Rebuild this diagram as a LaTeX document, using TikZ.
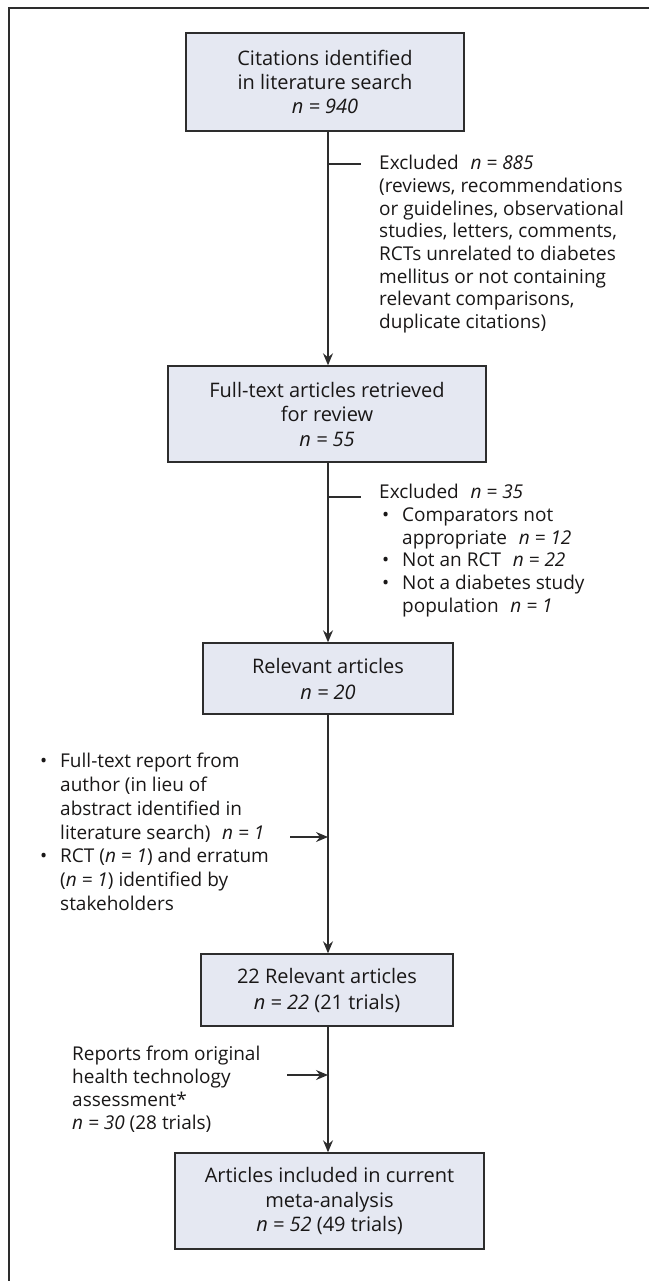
\documentclass[tikz,border=0pt]{standalone}
\usepackage{fontspec}
\setmainfont{Open Sans}
\usetikzlibrary{arrows.meta}
\definecolor{boxfill}{RGB}{229,232,242}
\definecolor{linegray}{RGB}{45,45,45}
\definecolor{inkc}{RGB}{25,23,23}
\newcommand{\bul}{\makebox[20pt][l]{\textbullet}}
\newcommand{\ind}{\hspace*{20pt}}
\newcommand{\gap}{\hspace{0.62em}}
\tikzset{
  flowbox/.style={draw=linegray, line width=1.4pt, fill=boxfill, inner sep=0pt, align=center, text=inkc},
  note/.style={inner sep=0pt, align=left, anchor=north west, text=inkc},
  conn/.style={draw=linegray, line width=1.2pt},
  arr/.style={conn, -{Stealth[length=12pt, width=10pt, inset=4pt]}},
  frame/.style={draw=linegray, line width=1.5pt}
}
\begin{document}
\begin{tikzpicture}[x=1pt,y=-1pt]
\useasboundingbox (0,0) rectangle (649,1281);
\draw[frame] (649,8) -- (9,8) -- (9,1281);
\coordinate (spine) at (328,0);
% boxes
\node[flowbox, minimum width=278pt, minimum height=98pt, font=\fontsize{20}{24.2}\selectfont] (b1) at (325,82)
  {Citations identified\\in literature search\\\textit{n = 940}};
\node[flowbox, minimum width=318pt, minimum height=96pt, font=\fontsize{20}{24.5}\selectfont] (b2) at (327,414)
  {Full-text articles retrieved\\for review\\\textit{n = 55}};
\node[flowbox, minimum width=250pt, minimum height=71pt, font=\fontsize{20}{26}\selectfont] (b3) at (328,678.5)
  {Relevant articles\\\textit{n = 20}};
\node[flowbox, minimum width=252pt, minimum height=72pt, font=\fontsize{20}{26}\selectfont] (b4) at (327,990)
  {22 Relevant articles\\\textit{n = 22} (21 trials)};
\node[flowbox, minimum width=309pt, minimum height=96pt, font=\fontsize{20}{24.5}\selectfont] (b5) at (329.5,1201)
  {Articles included in current\\meta-analysis\\\textit{n = 52} (49 trials)};
% main connectors
\draw[arr] (b1.south -| spine) -- (b2.north -| spine);
\draw[arr] (b2.south -| spine) -- (b3.north -| spine);
\draw[arr] (b3.south -| spine) -- (b4.north -| spine);
\draw[arr] (b4.south -| spine) -- (b5.north -| spine);
% exclusion 1
\coordinate (t1a) at (328,164);
\coordinate (t1b) at (361,164);
\draw[conn] (t1a) -- (t1b);
\node[note, font=\fontsize{19}{22.7}\selectfont] (ex1) at (379,155)
  {Excluded\gap\textit{n = 885}\\(reviews, recommendations\\or guidelines, observational\\studies, letters, comments,\\RCTs unrelated to diabetes\\mellitus or not containing\\relevant comparisons,\\duplicate citations)};
% exclusion 2
\coordinate (t2a) at (328,497);
\coordinate (t2b) at (361,497);
\draw[conn] (t2a) -- (t2b);
\node[note, font=\fontsize{19}{22.7}\selectfont] (ex2) at (379,484)
  {Excluded\gap\textit{n = 35}\\
   \hspace*{3pt}\bul Comparators not\\
   \hspace*{3pt}\ind appropriate\gap\textit{n = 12}\\
   \hspace*{3pt}\bul Not an RCT\gap\textit{n = 22}\\
   \hspace*{3pt}\bul Not a diabetes study\\
   \hspace*{3pt}\ind population\gap\textit{n = 1}};
% addition 1
\node[note, font=\fontsize{19}{23.8}\selectfont] (ad1) at (40,753)
  {\bul Full-text report from\\
   \ind author (in lieu of\\
   \ind abstract identified in\\
   \ind literature search)\gap\textit{n = 1}\\
   \bul RCT (\textit{n = 1}) and erratum\\
   \ind (\textit{n = 1}) identified by\\
   \ind stakeholders};
\coordinate (a1) at (290,837);
\draw[arr] (a1) -- (a1 -| spine);
% addition 2
\node[note, font=\fontsize{19}{23}\selectfont] (ad2) at (72,1046)
  {Reports from original\\health technology\\assessment*\\\textit{n = 30} (28 trials)};
\coordinate (a2) at (287,1075);
\draw[arr] (a2) -- (a2 -| spine);
\end{tikzpicture}
\end{document}
